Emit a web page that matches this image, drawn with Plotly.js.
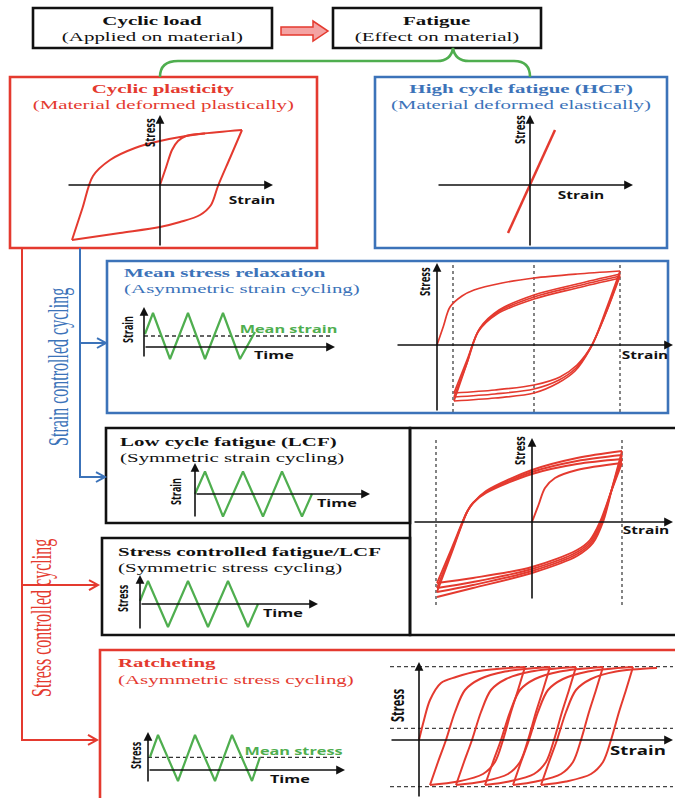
<!DOCTYPE html>
<html><head><meta charset="utf-8">
<script src="https://cdn.plot.ly/plotly-3.0.1.min.js"></script>
<style>html,body{margin:0;padding:0;background:#fff}#chart{width:675px;height:798px}</style>
</head><body><div id="chart"></div>
<script>
// ---------------- DATA (arbitrary strain / stress / time units) ----------------
// Cyclic plasticity loop
const cpInitStrain  = [0, 0.6, 1.2, 1.8, 2.6, 4.5];
const cpInitStress  = [0, 1.75, 3.5, 4.4, 4.9, 5.15];
const cpUpperStrain = [-8.8, -7.75, -6.7, -5.0, -2.5, 0, 4.0, 8.2];
const cpUpperStress = [-5.5, -2.3, 0.9, 2.5, 3.7, 4.4, 5.1, 5.5];
const cpLowerStrain = [8.2, 7.0, 5.8, 5.1, 4.0, 2.0, 0, -4.0, -8.8];
const cpLowerStress = [5.5, 2.7, -0.1, -2.0, -3.0, -3.7, -4.2, -4.8, -5.5];
// High cycle fatigue (elastic line)
const hcfStrain = [-2.2, 2.5];
const hcfStress = [-4.8, 5.5];
// Mean stress relaxation: strain history
const msrTime       = [0.1, 0.9, 2.6, 4.4, 6.1, 7.9, 9.6, 11.1];
const msrStrainWave = [1.3, 3.4, -1.2, 3.4, -1.2, 3.4, -1.2, 1.5];
const msrMeanTime   = [0, 18.9];
const msrMeanStrain = [1.1, 1.1];
// Mean stress relaxation: hysteresis branches
const msrStrain = [
  [0, 0.65, 1.3, 2.5, 3.7, 6.5, 9.7, 14.0, 18.3],
  [18.3, 17.0, 15.5, 14.0, 12.3, 9.7, 5.8, 1.7],
  [1.7, 3.0, 4.3, 6.2, 9.7, 14.0, 18.3],
  [18.3, 17.0, 15.4, 13.9, 12.2, 9.7, 5.8, 1.7],
  [1.7, 3.0, 4.2, 6.1, 9.7, 14.0, 18.3],
  [18.3, 16.9, 15.3, 13.8, 12.1, 9.7, 5.8, 1.7],
  [1.7, 2.9, 4.1, 6.0, 9.7, 14.0, 18.3]
];
const msrStress = [
  [0, 1.9, 3.8, 4.9, 5.5, 6.2, 6.7, 7.1, 7.4],
  [7.4, 3.8, 0, -2.0, -3.2, -4.0, -4.5, -4.8],
  [-4.8, -1.5, 1.7, 3.5, 5.0, 6.1, 7.1],
  [7.1, 3.5, -0.2, -2.3, -3.5, -4.4, -4.9, -5.2],
  [-5.2, -1.8, 1.5, 3.3, 4.8, 5.9, 6.9],
  [6.9, 3.2, -0.4, -2.6, -3.8, -4.8, -5.3, -5.6],
  [-5.6, -2.1, 1.3, 3.1, 4.6, 5.7, 6.7]
];
const msrStrainLimits = [1.6, 9.7, 18.3];
const msrLimitSpan    = [-6.7, 8.2];
// Low cycle fatigue: strain history
const lcfTime       = [0, 1.0, 2.8, 4.8, 6.8, 8.7, 10.7, 11.7];
const lcfStrainWave = [0, 2.25, -2.25, 2.25, -2.25, 2.25, -2.25, 0];
// Low cycle fatigue: hysteresis branches
const lcfStrain = [
  [0, 0.65, 1.3, 2.3, 4.5, 9.0],
  [9.0, 7.9, 6.8, 5.8, 4.5, 0, -5.9, -9.5],
  [-9.5, -8.0, -6.5, -5.9, -4.6, 0, 4.5, 9.0],
  [9.0, 7.95, 6.9, 5.9, 4.5, 0, -5.9, -9.5],
  [-9.5, -8.0, -6.5, -5.9, -4.6, 0, 4.5, 9.0],
  [9.0, 8.0, 7.0, 6.0, 4.5, 0, -5.9, -9.5],
  [-9.5, -8.0, -6.5, -5.9, -4.6, 0, 4.5, 9.0],
  [9.0, 8.05, 7.1, 6.1, 4.5, 0, -5.9, -9.5]
];
const lcfStress = [
  [0, 1.7, 3.4, 4.4, 5.2, 5.9],
  [5.9, 3.0, 0, -1.8, -2.8, -4.5, -5.6, -6.1],
  [-6.1, -2.55, 1.0, 1.9, 2.9, 4.8, 5.8, 6.3],
  [6.3, 3.15, 0, -1.9, -3.0, -4.7, -6.0, -6.6],
  [-6.6, -2.8, 1.0, 1.9, 3.0, 5.0, 6.1, 6.7],
  [6.7, 3.35, 0, -2.0, -3.2, -4.9, -6.3, -7.0],
  [-7.0, -3.0, 1.0, 1.9, 3.1, 5.2, 6.4, 7.1],
  [7.1, 3.55, 0, -2.1, -3.4, -5.1, -6.6, -7.5]
];
const lcfStrainLimits = [-9.6, 9.0];
const lcfLimitSpan    = [-8.3, 8.4];
// Stress controlled fatigue: stress history
const scfTime       = [0, 0.8, 2.8, 4.8, 6.8, 8.8, 10.8, 11.8];
const scfStressWave = [0.3, 2.3, -2.3, 2.3, -2.3, 2.3, -2.3, 0];
// Ratcheting: stress history
const ratTime       = [0.2, 1.0, 3.0, 4.7, 6.7, 8.4, 10.4, 11.2];
const ratStressWave = [1.3, 3.5, -1.1, 3.5, -1.1, 3.5, -1.1, 1.3];
const ratMeanTime   = [0, 19.2];
const ratMeanStress = [1.27, 1.27];
// Ratcheting: hysteresis branches
const ratStrain = [
  [0, 0.5, 1.1, 2.2, 3.7, 6.0, 10.6],
  [10.6, 9.9, 9.2, 8.4, 7.6, 6.4, 3.9, 1.1],
  [1.1, 1.9, 2.7, 3.6, 4.6, 6.1, 8.6, 13.1],
  [13.1, 12.4, 11.7, 10.9, 10.1, 8.9, 6.4, 3.7],
  [3.7, 4.5, 5.3, 6.2, 7.2, 8.7, 11.2, 15.7],
  [15.7, 15.0, 14.3, 13.5, 12.7, 11.5, 9.0, 6.6],
  [6.6, 7.4, 8.2, 9.1, 10.1, 11.6, 14.1, 18.4],
  [18.4, 17.7, 17.0, 16.2, 15.4, 14.2, 11.7, 9.4],
  [9.4, 10.2, 11.0, 11.9, 12.9, 14.4, 16.9, 21.4],
  [21.4, 20.7, 20.0, 19.2, 18.4, 17.2, 14.7, 12.2],
  [12.2, 13.0, 13.8, 14.7, 15.7, 17.2, 19.7, 23.8]
];
const ratStress = [
  [0, 2.0, 4.0, 5.7, 6.3, 6.9, 7.3],
  [7.3, 5.0, 2.8, 0, -2.2, -3.4, -4.15, -4.5],
  [-4.5, -2.2, 0, 2.8, 5.0, 6.1, 6.85, 7.3],
  [7.3, 5.0, 2.8, 0, -2.2, -3.4, -4.15, -4.5],
  [-4.5, -2.2, 0, 2.8, 5.0, 6.1, 6.85, 7.3],
  [7.3, 5.0, 2.8, 0, -2.2, -3.4, -4.15, -4.5],
  [-4.5, -2.2, 0, 2.8, 5.0, 6.1, 6.85, 7.3],
  [7.3, 5.0, 2.8, 0, -2.2, -3.4, -4.15, -4.5],
  [-4.5, -2.2, 0, 2.8, 5.0, 6.1, 6.85, 7.3],
  [7.3, 5.0, 2.8, 0, -2.2, -3.4, -4.15, -4.5],
  [-4.5, -2.2, 0, 2.8, 5.0, 6.1, 6.85, 7.2]
];
const ratStressLimits = [7.33, 1.17, -4.67];
const ratLimitSpan    = [-2.9, 25.4];

// ---------------- STYLE / LAYOUT ----------------
const W = 675, H = 798, S = 10;
const X = px => px / W, Y = py => 1 - py / H;
const RED = '#e43a2f', BLUE = '#3c73b9', GREEN = '#4fae4f', BLACK = '#111111';
const SERIF = 'Liberation Serif, Times New Roman, serif';
const SANS = 'Open Sans, DejaVu Sans, sans-serif';
const STR = 1.55; // horizontal stretch of the original lettering
const TS = 13.5;  // box text size

const layout = {
  width: W, height: H, margin: {l: 0, r: 0, t: 0, b: 0},
  paper_bgcolor: '#ffffff', plot_bgcolor: 'rgba(0,0,0,0)', showlegend: false,
  shapes: [], annotations: []
};
const stretch = [];
const traces = [];

function panel(n, x0, x1, y0, y1, ox, oy) {
  const id = n === 1 ? '' : String(n);
  layout['xaxis' + id] = {domain: [x0 / W, x1 / W], range: [(x0 - ox) / S, (x1 - ox) / S],
    visible: false, fixedrange: true, anchor: 'y' + id};
  layout['yaxis' + id] = {domain: [1 - y1 / H, 1 - y0 / H], range: [(oy - y1) / S, (oy - y0) / S],
    visible: false, fixedrange: true, anchor: 'x' + id};
}
const ax = n => (n === 1 ? 'x' : 'x' + n), ay = n => (n === 1 ? 'y' : 'y' + n);

function line(n, xs, ys, color, width, dash, shape) {
  traces.push({type: 'scatter', mode: 'lines', x: xs, y: ys, xaxis: ax(n), yaxis: ay(n),
    line: {color: color, width: width, dash: dash || 'solid', shape: shape || 'linear', smoothing: 0.9},
    hoverinfo: 'skip', cliponaxis: false});
}
function arrowAxis(n, x0, y0, x1, y1) {
  layout.annotations.push({xref: ax(n), yref: ay(n), axref: ax(n), ayref: ay(n),
    x: x1, y: y1, ax: x0, ay: y0, text: '', showarrow: true, arrowhead: 2, arrowsize: 1.1,
    arrowwidth: 1.6, arrowcolor: BLACK, standoff: 0, startstandoff: 0});
  stretch.push(1);
}
function label(n, txt, x, y, size, color, rot) {
  layout.annotations.push({xref: ax(n), yref: ay(n), x: x, y: y, text: '<b>' + txt + '</b>',
    showarrow: false, textangle: rot ? -90 : 0, xanchor: 'center', yanchor: 'middle',
    font: {family: SANS, size: size, color: color || BLACK}});
  stretch.push(STR);
}
function ptext(txt, x, y, anchor, color, size, fam, rot, k) {
  layout.annotations.push({xref: 'paper', yref: 'paper', x: X(x), y: Y(y), text: txt,
    showarrow: false, xanchor: anchor, yanchor: 'middle', textangle: rot ? -90 : 0, borderpad: 0,
    font: {family: fam || SERIF, size: size || TS, color: color || BLACK}});
  stretch.push(k || STR);
}
function rect(x0, y0, x1, y1, color) {
  layout.shapes.push({type: 'rect', xref: 'paper', yref: 'paper', x0: X(x0), x1: X(x1), y0: Y(y1), y1: Y(y0),
    line: {color: color, width: 2.6}, fillcolor: 'rgba(0,0,0,0)'});
}
function path(cmds, color, width, fill) {
  const d = cmds.map(c => c[0] + ' ' + c.slice(1).map((v, i) => (i % 2 === 0 ? X(v) : Y(v)).toFixed(5)).join(' ')).join(' ');
  layout.shapes.push({type: 'path', xref: 'paper', yref: 'paper', path: d,
    line: {color: color, width: width}, fillcolor: fill || 'rgba(0,0,0,0)'});
}

// ---- frames ----
rect(33, 8, 272, 48, BLACK);
rect(333, 8, 541, 48, BLACK);
rect(10, 77, 317, 248, RED);
rect(375, 77, 667, 248, BLUE);
rect(107, 261, 668, 413, BLUE);
rect(106, 428, 410, 523, BLACK);
rect(410, 428, 690, 635, BLACK);
rect(102, 538, 410, 635, BLACK);
rect(100, 650, 690, 812, RED);
// block arrow between the top boxes
path([['M', 281, 27], ['L', 313, 27], ['L', 313, 21], ['L', 328, 31], ['L', 313, 41], ['L', 313, 35], ['L', 281, 35], ['Z']], RED, 1.5, '#f4a3a3');
// green brace
path([['M', 160, 77], ['Q', 160, 61, 178, 61], ['L', 437, 61], ['Q', 451, 61, 453, 48], ['Q', 455, 61, 469, 61], ['L', 514, 61], ['Q', 530, 61, 530, 77]], GREEN, 2.6);
// flow lines (stress controlled – red, strain controlled – blue)
path([['M', 22, 248], ['L', 22, 740], ['L', 97, 740]], RED, 2);
path([['M', 88, 735], ['L', 97, 740], ['L', 88, 745]], RED, 2);
path([['M', 22, 585], ['L', 98, 585]], RED, 2);
path([['M', 89, 580], ['L', 98, 585], ['L', 89, 590]], RED, 2);
path([['M', 80, 248], ['L', 80, 477], ['L', 105, 477]], BLUE, 2);
path([['M', 96, 472], ['L', 105, 477], ['L', 96, 482]], BLUE, 2);
path([['M', 80, 343], ['L', 106, 343]], BLUE, 2);
path([['M', 97, 338], ['L', 106, 343], ['L', 97, 348]], BLUE, 2);

// ---- texts ----
ptext('<b>Cyclic load</b>', 152, 20, 'center', BLACK);
ptext('(Applied on material)', 152, 37, 'center', BLACK);
ptext('<b>Fatigue</b>', 437, 20, 'center', BLACK);
ptext('(Effect on material)', 437, 37, 'center', BLACK);
ptext('<b>Cyclic plasticity</b>', 163, 89, 'center', RED);
ptext('(Material deformed plastically)', 163, 104.5, 'center', RED);
ptext('<b>High cycle fatigue (HCF)</b>', 521, 89, 'center', BLUE);
ptext('(Material deformed elastically)', 521, 104.5, 'center', BLUE);
ptext('<b>Mean stress relaxation</b>', 123, 272, 'left', BLUE);
ptext('(Asymmetric strain cycling)', 123, 288, 'left', BLUE);
ptext('<b>Low cycle fatigue (LCF)</b>', 119, 441, 'left', BLACK);
ptext('(Symmetric strain cycling)', 119, 457, 'left', BLACK);
ptext('<b>Stress controlled fatigue/LCF</b>', 117, 551, 'left', BLACK);
ptext('(Symmetric stress cycling)', 117, 567, 'left', BLACK);
ptext('<b>Ratcheting</b>', 117, 662, 'left', RED);
ptext('(Asymmetric stress cycling)', 117, 679, 'left', RED);
ptext('Strain controlled cycling', 59, 367, 'center', BLUE, 16, SERIF, true, 1.8);
ptext('Stress controlled cycling', 42, 618, 'center', RED, 16, SERIF, true, 1.8);

// ---- panels ----
panel(1, 12, 315, 110, 247, 160, 185);   // cyclic plasticity
panel(2, 377, 665, 110, 247, 530, 185);  // HCF
panel(3, 110, 350, 300, 372, 144, 347);  // MSR strain-time
panel(4, 380, 675, 262, 412, 437, 345);  // MSR hysteresis
panel(5, 160, 385, 458, 522, 195, 494);  // LCF strain-time
panel(6, 411, 675, 431, 634, 532, 522);  // LCF hysteresis
panel(7, 110, 330, 570, 634, 140, 604);  // SCF stress-time
panel(8, 120, 355, 722, 798, 148, 770);  // ratcheting stress-time
panel(9, 383, 675, 652, 798, 419, 740);  // ratcheting hysteresis

// 1 cyclic plasticity
line(1, cpUpperStrain, cpUpperStress, RED, 2, null, 'spline');
line(1, cpLowerStrain, cpLowerStress, RED, 2, null, 'spline');
line(1, cpInitStrain, cpInitStress, RED, 2, null, 'spline');
arrowAxis(1, -9.3, 0, 11.3, 0); arrowAxis(1, 0, -6.2, 0, 7.0);
label(1, 'Stress', -1.1, 5.2, 9.5, BLACK, true); label(1, 'Strain', 9.2, -1.5, 10);
// 2 HCF
line(2, hcfStrain, hcfStress, RED, 2.5);
arrowAxis(2, -9.3, 0, 10.3, 0); arrowAxis(2, 0, -6.2, 0, 7.0);
label(2, 'Stress', -1.1, 5.5, 9.5, BLACK, true); label(2, 'Strain', 5.1, -1.0, 10);
// 3 MSR strain-time
line(3, msrMeanTime, msrMeanStrain, '#333', 1.3, '4px,3px');
line(3, msrTime, msrStrainWave, GREEN, 2.2);
arrowAxis(3, 0, 0, 19.1, 0); arrowAxis(3, 0, -1.1, 0, 4.0);
label(3, 'Strain', -1.7, 1.7, 9, BLACK, true); label(3, 'Time', 13.0, -0.8, 10.5);
label(3, 'Mean strain', 14.4, 1.8, 10.5, GREEN);
// 4 MSR hysteresis
msrStrainLimits.forEach(v => line(4, [v, v], msrLimitSpan, '#333', 1.2, '3px,3px'));
msrStrain.forEach((xs, i) => line(4, xs, msrStress[i], RED, 1.7, null, 'spline'));
arrowAxis(4, -4.1, 0, 23.6, 0); arrowAxis(4, 0, -6.7, 0, 8.2);
label(4, 'Stress', -1.3, 6.3, 9.5, BLACK, true); label(4, 'Strain', 20.8, -1.0, 10);
// 5 LCF strain-time
line(5, lcfTime, lcfStrainWave, GREEN, 2.2);
arrowAxis(5, 0, 0, 17.5, 0); arrowAxis(5, 0, -2.4, 0, 3.1);
label(5, 'Strain', -2.0, 0.2, 9, BLACK, true); label(5, 'Time', 14.2, -0.9, 10.5);
// 6 LCF hysteresis
lcfStrainLimits.forEach(v => line(6, [v, v], lcfLimitSpan, '#333', 1.2, '3px,3px'));
lcfStrain.forEach((xs, i) => line(6, xs, lcfStress[i], RED, 1.9, null, 'spline'));
arrowAxis(6, -11.9, 0, 14.1, 0); arrowAxis(6, 0, -7.8, 0, 8.4);
label(6, 'Stress', -1.3, 7.1, 9.5, BLACK, true); label(6, 'Strain', 11.4, -0.8, 10);
// 7 SCF stress-time
line(7, scfTime, scfStressWave, GREEN, 2.2);
arrowAxis(7, 0, 0, 17.8, 0); arrowAxis(7, 0, -2.6, 0, 2.9);
label(7, 'Stress', -1.8, 0.6, 9, BLACK, true); label(7, 'Time', 14.3, -0.9, 10.5);
// 8 ratcheting stress-time
line(8, ratMeanTime, ratMeanStress, '#333', 1.3, '4px,3px');
line(8, ratTime, ratStressWave, GREEN, 2.2);
arrowAxis(8, 0, 0, 19.7, 0); arrowAxis(8, 0, -1.3, 0, 3.8);
label(8, 'Stress', -1.3, 1.5, 9, BLACK, true); label(8, 'Time', 14.2, -0.9, 10.5);
label(8, 'Mean stress', 14.5, 1.9, 10.5, GREEN);
// 9 ratcheting hysteresis
ratStressLimits.forEach(v => line(9, ratLimitSpan, [v, v], '#444', 1.2, '4px,3px'));
ratStrain.forEach((xs, i) => line(9, xs, ratStress[i], RED, 2, null, 'spline'));
arrowAxis(9, -2.9, 0, 25.4, 0); arrowAxis(9, 0, -5.8, 0, 7.8);
label(9, 'Stress', -2.2, 3.5, 11, BLACK, true); label(9, 'Strain', 21.9, -1.0, 12);

function applyStretch() {
  document.querySelectorAll('#chart g.annotation').forEach(g => {
    const i = +g.getAttribute('data-index');
    const a = layout.annotations[i], k = stretch[i];
    const t = g.querySelector('text.annotation-text');
    if (!a || !t || !k || k === 1) return;
    t.style.transformBox = 'fill-box';
    if (a.textangle) { t.style.transformOrigin = '50% 50%'; t.style.transform = 'scale(1,' + k + ')'; }
    else {
      t.style.transformOrigin = a.xanchor === 'left' ? '0% 50%' : (a.xanchor === 'right' ? '100% 50%' : '50% 50%');
      t.style.transform = 'scale(' + k + ',1)';
    }
  });
}
Plotly.newPlot('chart', traces, layout, {staticPlot: true, displayModeBar: false}).then(applyStretch);
</script>
</body></html>
